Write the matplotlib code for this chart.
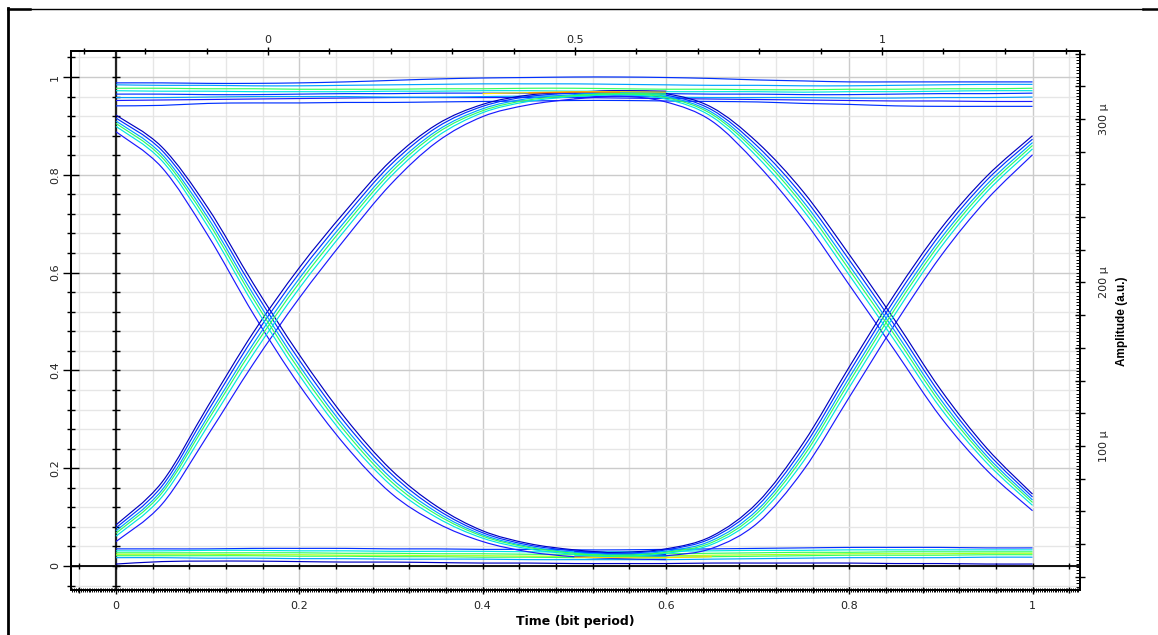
# Eye diagram (bit period) with amplitude axis, redrawn from screenshot
import numpy as np
import matplotlib.pyplot as plt
from matplotlib.ticker import MultipleLocator, FixedLocator, FuncFormatter
from matplotlib.lines import Line2D
from matplotlib.path import Path
from matplotlib.patches import PathPatch

plt.rcParams['font.family'] = ['DejaVu Sans']

# --- sample times (bit period) ---
t_full = [0.00, 0.05, 0.10, 0.15, 0.20, 0.25, 0.30, 0.35, 0.40, 0.45, 0.50,
          0.55, 0.60, 0.65, 0.70, 0.75, 0.80, 0.85, 0.90, 0.95, 1.00]
t_left = [0.00, 0.05, 0.10, 0.15, 0.20, 0.25, 0.30, 0.35, 0.40, 0.45, 0.50, 0.55, 0.60]
t_right = [0.50, 0.55, 0.60, 0.65, 0.70, 0.75, 0.80, 0.85, 0.90, 0.95, 1.00]

# --- "1" level traces ---
top_1 = [0.988, 0.988, 0.987, 0.987, 0.988, 0.990, 0.993, 0.996, 0.998, 0.999, 1.000,
         1.000, 0.999, 0.997, 0.994, 0.992, 0.990, 0.990, 0.990, 0.990, 0.990]
top_2 = [0.984, 0.983, 0.983, 0.982, 0.982, 0.983, 0.984, 0.985, 0.986, 0.986, 0.986,
         0.985, 0.984, 0.983, 0.983, 0.982, 0.982, 0.983, 0.984, 0.985, 0.985]
top_3 = [0.977, 0.977, 0.976, 0.976, 0.975, 0.975, 0.975, 0.976, 0.976, 0.977, 0.977,
         0.976, 0.975, 0.975, 0.974, 0.974, 0.975, 0.975, 0.976, 0.976, 0.977]
top_4 = [0.972, 0.971, 0.971, 0.970, 0.970, 0.970, 0.971, 0.971, 0.972, 0.972, 0.971,
         0.971, 0.970, 0.970, 0.970, 0.969, 0.970, 0.970, 0.971, 0.972, 0.972]
top_5 = [0.965, 0.965, 0.964, 0.964, 0.965, 0.966, 0.966, 0.967, 0.967, 0.967, 0.967,
         0.966, 0.966, 0.965, 0.965, 0.964, 0.964, 0.965, 0.966, 0.966, 0.967]
top_6 = [0.958, 0.958, 0.959, 0.960, 0.960, 0.960, 0.959, 0.959, 0.960, 0.961, 0.961,
         0.960, 0.959, 0.958, 0.958, 0.958, 0.957, 0.957, 0.958, 0.958, 0.959]
top_7 = [0.952, 0.953, 0.954, 0.955, 0.956, 0.957, 0.958, 0.958, 0.958, 0.958, 0.958,
         0.957, 0.956, 0.955, 0.954, 0.953, 0.952, 0.951, 0.951, 0.950, 0.950]
top_8 = [0.941, 0.942, 0.946, 0.947, 0.947, 0.948, 0.948, 0.949, 0.950, 0.951, 0.952,
         0.952, 0.951, 0.950, 0.949, 0.946, 0.944, 0.941, 0.940, 0.940, 0.940]

# --- "0" level traces ---
bot_1 = [0.035, 0.035, 0.035, 0.036, 0.036, 0.036, 0.035, 0.035, 0.034, 0.034, 0.033,
         0.033, 0.034, 0.035, 0.036, 0.037, 0.038, 0.038, 0.038, 0.037, 0.037]
bot_2 = [0.031, 0.031, 0.032, 0.032, 0.031, 0.031, 0.030, 0.030, 0.030, 0.029, 0.029,
         0.029, 0.030, 0.031, 0.032, 0.032, 0.033, 0.033, 0.033, 0.033, 0.033]
bot_3 = [0.027, 0.027, 0.027, 0.027, 0.027, 0.026, 0.026, 0.025, 0.025, 0.024, 0.024,
         0.024, 0.025, 0.026, 0.027, 0.028, 0.028, 0.029, 0.029, 0.029, 0.029]
bot_4 = [0.024, 0.024, 0.024, 0.023, 0.023, 0.022, 0.022, 0.021, 0.021, 0.020, 0.020,
         0.020, 0.021, 0.022, 0.023, 0.024, 0.025, 0.025, 0.025, 0.026, 0.026]
bot_5 = [0.021, 0.021, 0.021, 0.021, 0.020, 0.020, 0.019, 0.019, 0.018, 0.018, 0.017,
         0.017, 0.018, 0.019, 0.020, 0.021, 0.022, 0.022, 0.022, 0.023, 0.023]
bot_6 = [0.017, 0.017, 0.016, 0.016, 0.015, 0.015, 0.014, 0.014, 0.014, 0.013, 0.013,
         0.013, 0.013, 0.014, 0.015, 0.016, 0.017, 0.017, 0.017, 0.018, 0.018]
bot_7 = [0.004, 0.009, 0.010, 0.010, 0.009, 0.008, 0.008, 0.007, 0.006, 0.006, 0.005,
         0.005, 0.005, 0.006, 0.006, 0.006, 0.006, 0.005, 0.005, 0.004, 0.004]

# --- first transition: falling edges ---
fall_a = [0.922, 0.857, 0.733, 0.577, 0.432, 0.303, 0.197, 0.122, 0.072, 0.046, 0.033, 0.026, 0.024]
fall_b = [0.916, 0.850, 0.723, 0.566, 0.421, 0.293, 0.189, 0.116, 0.068, 0.043, 0.031, 0.024, 0.022]
fall_c = [0.910, 0.842, 0.713, 0.555, 0.410, 0.283, 0.180, 0.110, 0.064, 0.040, 0.028, 0.022, 0.020]
fall_d = [0.905, 0.836, 0.705, 0.546, 0.401, 0.275, 0.173, 0.105, 0.061, 0.038, 0.026, 0.020, 0.018]
fall_e = [0.899, 0.829, 0.695, 0.535, 0.390, 0.265, 0.165, 0.099, 0.057, 0.035, 0.024, 0.018, 0.016]
fall_f = [0.888, 0.815, 0.677, 0.515, 0.370, 0.247, 0.149, 0.088, 0.050, 0.029, 0.019, 0.015, 0.013]

# --- first transition: rising edges ---
rise_a = [0.084, 0.171, 0.326, 0.478, 0.610, 0.725, 0.829, 0.903, 0.944, 0.963, 0.969, 0.972, 0.971]
rise_b = [0.078, 0.163, 0.316, 0.467, 0.599, 0.715, 0.821, 0.897, 0.940, 0.960, 0.967, 0.970, 0.969]
rise_c = [0.072, 0.155, 0.305, 0.455, 0.588, 0.705, 0.812, 0.890, 0.935, 0.956, 0.964, 0.968, 0.967]
rise_d = [0.067, 0.149, 0.297, 0.446, 0.579, 0.697, 0.805, 0.885, 0.931, 0.953, 0.962, 0.966, 0.965]
rise_e = [0.061, 0.141, 0.286, 0.434, 0.568, 0.687, 0.797, 0.878, 0.927, 0.950, 0.960, 0.964, 0.963]
rise_f = [0.050, 0.126, 0.267, 0.414, 0.548, 0.669, 0.781, 0.867, 0.919, 0.943, 0.955, 0.961, 0.960]

# --- second transition: falling edges ---
fall2_a = [0.968, 0.972, 0.966, 0.938, 0.866, 0.765, 0.637, 0.502, 0.360, 0.241, 0.147]
fall2_b = [0.966, 0.970, 0.963, 0.933, 0.858, 0.755, 0.626, 0.491, 0.350, 0.233, 0.141]
fall2_c = [0.964, 0.968, 0.960, 0.928, 0.850, 0.745, 0.615, 0.480, 0.340, 0.225, 0.135]
fall2_d = [0.962, 0.966, 0.958, 0.924, 0.844, 0.737, 0.606, 0.471, 0.332, 0.219, 0.130]
fall2_e = [0.960, 0.964, 0.955, 0.919, 0.836, 0.727, 0.595, 0.460, 0.322, 0.211, 0.124]
fall2_f = [0.957, 0.961, 0.949, 0.910, 0.821, 0.709, 0.575, 0.440, 0.304, 0.196, 0.113]

# --- second transition: rising edges ---
rise2_a = [0.030, 0.028, 0.035, 0.061, 0.130, 0.252, 0.407, 0.557, 0.690, 0.797, 0.880]
rise2_b = [0.028, 0.026, 0.033, 0.057, 0.123, 0.242, 0.396, 0.546, 0.680, 0.789, 0.873]
rise2_c = [0.026, 0.024, 0.030, 0.052, 0.115, 0.232, 0.385, 0.535, 0.670, 0.780, 0.866]
rise2_d = [0.024, 0.022, 0.028, 0.048, 0.109, 0.224, 0.376, 0.526, 0.662, 0.773, 0.860]
rise2_e = [0.022, 0.020, 0.026, 0.044, 0.102, 0.214, 0.365, 0.515, 0.652, 0.765, 0.853]
rise2_f = [0.019, 0.017, 0.021, 0.036, 0.088, 0.196, 0.345, 0.495, 0.634, 0.749, 0.841]

# --- high hit-density streaks ---
hot_top_t = [0.40, 0.45, 0.50, 0.55, 0.60]
hot_top_y = [0.966, 0.968, 0.970, 0.970, 0.969]
hot_top2_t = [0.45, 0.50, 0.55]
hot_top2_y = [0.967, 0.969, 0.969]
hot_bot_t = [0.50, 0.55, 0.60, 0.65]
hot_bot_y = [0.018, 0.017, 0.017, 0.019]

# axis tick labels
x_ticks_top = [0, 0.5, 1]

# colours (jet-like density scale)
DARK = '#0000c0'
BLUE = '#0030ff'
BLUE2 = '#1a1aff'
LBLUE = '#00a0ff'
CYAN = '#00e4e4'
GREEN = '#30ff60'
YGREEN = '#a8ff20'
YELLOW = '#ffdc00'
ORANGE = '#ff8000'


def trace(ax, x, y, color, z, lw=0.85):
    # smooth (Catmull-Rom) line through the read samples
    x = list(x)
    y = list(y)
    n = len(x)
    verts = [(x[0], y[0])]
    codes = [Path.MOVETO]
    for i in range(n - 1):
        x0, y0 = (x[i - 1], y[i - 1]) if i > 0 else (x[i], y[i])
        x3, y3 = (x[i + 2], y[i + 2]) if i + 2 < n else (x[i + 1], y[i + 1])
        c1 = (x[i] + (x[i + 1] - x0) / 6, y[i] + (y[i + 1] - y0) / 6)
        c2 = (x[i + 1] - (x3 - x[i]) / 6, y[i + 1] - (y3 - y[i]) / 6)
        verts += [c1, c2, (x[i + 1], y[i + 1])]
        codes += [Path.CURVE4] * 3
    ax.add_patch(PathPatch(Path(verts, codes), fill=False, edgecolor=color, lw=lw,
                           zorder=z, capstyle='butt'))


W, H = 1158, 635
fig = plt.figure(figsize=(W / 100, H / 100), dpi=100)
ax = fig.add_axes([71 / W, 45 / H, 1009 / W, 539 / H])
ax.set_xlim(-0.0491, 1.0518)
ax.set_ylim(-0.0491, 1.0532)

top_rail = [(top_8, BLUE), (top_7, BLUE2), (top_1, BLUE), (top_6, LBLUE),
            (top_5, BLUE), (top_2, LBLUE), (top_4, CYAN), (top_3, GREEN)]
bot_rail = [(bot_7, DARK), (bot_1, BLUE), (bot_6, LBLUE), (bot_2, CYAN),
            (bot_3, GREEN), (bot_5, GREEN), (bot_4, YGREEN)]
for y, c in top_rail + bot_rail:
    trace(ax, t_full, y, c, 3)

edge_order = ['f', 'a', 'b', 'c', 'e', 'd']
edge_color = {'f': BLUE2, 'a': DARK, 'b': BLUE, 'c': LBLUE, 'e': CYAN, 'd': GREEN}
left_fall = dict(a=fall_a, b=fall_b, c=fall_c, d=fall_d, e=fall_e, f=fall_f)
left_rise = dict(a=rise_a, b=rise_b, c=rise_c, d=rise_d, e=rise_e, f=rise_f)
right_fall = dict(a=fall2_a, b=fall2_b, c=fall2_c, d=fall2_d, e=fall2_e, f=fall2_f)
right_rise = dict(a=rise2_a, b=rise2_b, c=rise2_c, d=rise2_d, e=rise2_e, f=rise2_f)
for k in edge_order:
    trace(ax, t_left, left_fall[k], edge_color[k], 4)
    trace(ax, t_left, left_rise[k], edge_color[k], 4)
    trace(ax, t_right, right_fall[k], edge_color[k], 4)
    trace(ax, t_right, right_rise[k], edge_color[k], 4)

trace(ax, hot_top_t, hot_top_y, YELLOW, 5)
trace(ax, hot_top2_t, hot_top2_y, ORANGE, 5)
trace(ax, hot_bot_t, hot_bot_y, YELLOW, 5)

# grid
ax.xaxis.set_major_locator(MultipleLocator(0.2))
ax.xaxis.set_minor_locator(MultipleLocator(0.04))
ax.yaxis.set_major_locator(MultipleLocator(0.2))
ax.yaxis.set_minor_locator(MultipleLocator(0.04))
fmt = FuncFormatter(lambda v, p: '%g' % round(v, 2))
ax.xaxis.set_major_formatter(fmt)
ax.yaxis.set_major_formatter(fmt)
ax.set_axisbelow(True)
ax.grid(which='minor', color='#e6e6e6', lw=1.0)
ax.grid(which='major', color='#cbcbcb', lw=1.0)

for s in ax.spines.values():
    s.set_linewidth(1.3)
ax.tick_params(axis='x', which='major', direction='inout', length=6, width=1, pad=5,
               labelsize=8, labelcolor='#222222')
ax.tick_params(axis='x', which='minor', direction='inout', length=5, width=1)
ax.tick_params(axis='y', which='major', direction='inout', length=11, width=1, pad=2.5,
               labelsize=8, labelrotation=90, labelcolor='#222222')
ax.tick_params(axis='y', which='minor', direction='inout', length=6, width=1)
for lab in ax.get_yticklabels():
    lab.set_va('center')

# fine ruler ticks along the bottom spine
fine_x = np.arange(-0.048, 1.051, 0.002)
ax.plot(fine_x, np.zeros_like(fine_x), transform=ax.get_xaxis_transform(), marker='|',
        ms=2.5, mew=0.7, ls='none', color='k', clip_on=False, zorder=6)

# axes through the origin
ax.axhline(0, color='k', lw=1.3, zorder=2.5)
ax.axvline(0, color='#222222', lw=1.6, zorder=2.5)
ox = np.arange(-0.04, 1.05, 0.04)
oy = np.arange(-0.04, 1.05, 0.04)
ax.plot(ox, np.zeros_like(ox), marker='|', ms=4, mew=1, ls='none', color='k', zorder=2.6)
ax.plot(np.zeros_like(oy), oy, marker='_', ms=6, mew=1, ls='none', color='k', zorder=2.6)

# top axis
axt = ax.twiny()
axt.set_xlim(-0.3208, 1.3225)
axt.xaxis.set_major_locator(FixedLocator(x_ticks_top))
axt.xaxis.set_minor_locator(MultipleLocator(0.1))
axt.xaxis.set_major_formatter(FuncFormatter(lambda v, p: '%g' % v))
axt.tick_params(axis='x', which='major', direction='inout', length=6, width=1, pad=1,
                labelsize=8, labelcolor='#222222')
axt.tick_params(axis='x', which='minor', direction='inout', length=4, width=1)
for s in axt.spines.values():
    s.set_linewidth(1.3)

# right amplitude axis
axr = ax.twinx()
axr.set_ylim(11.9, 341.6)
axr.yaxis.set_major_locator(MultipleLocator(20))
axr.yaxis.set_minor_locator(MultipleLocator(2))
axr.yaxis.set_major_formatter(FuncFormatter(
    lambda v, p: '%d \u03bc' % round(v) if round(v) % 100 == 0 else ''))
axr.tick_params(axis='y', which='major', direction='inout', length=7, width=1, pad=10,
                labelsize=8, labelrotation=90, labelcolor='#222222')
axr.tick_params(axis='y', which='minor', direction='in', length=3, width=0.7)
for lab in axr.get_yticklabels():
    lab.set_va('center')
for s in axr.spines.values():
    s.set_linewidth(1.3)

fig.text(575 / W, 1 - 622 / H, 'Time (bit period)', ha='center', va='center',
         fontsize=9, fontweight='bold')
fig.text(1122 / W, 1 - 321 / H, 'Amplitude (a.u.)', ha='center', va='center', rotation=90,
         fontsize=8.5, fontweight='bold',
         family=['Liberation Sans Narrow', 'Liberation Sans', 'DejaVu Sans'])

# window frame
fig.add_artist(Line2D([8 / W, 1143 / W], [1 - 8.5 / H] * 2, color='k', lw=1.0))
fig.add_artist(Line2D([8 / W] * 2, [0, 1 - 8 / H], color='k', lw=2.0))
fig.add_artist(Line2D([8 / W, 30 / W], [1 - 9 / H] * 2, color='k', lw=1.8))
fig.add_artist(Line2D([1143 / W, 1.0], [1 - 9.3 / H] * 2, color='k', lw=1.8))

fig.savefig('out.png', dpi=100)
